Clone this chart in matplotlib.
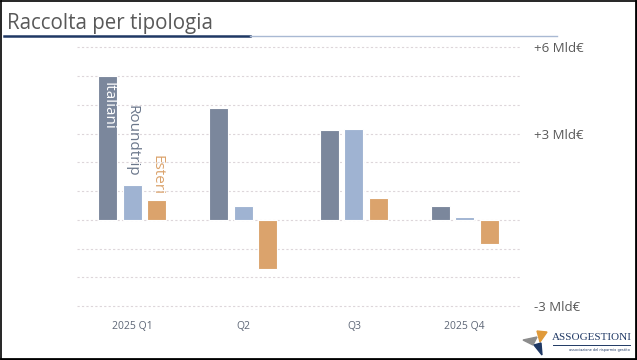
import numpy as np
import matplotlib.pyplot as plt
from matplotlib.lines import Line2D
from matplotlib.patches import Polygon

# dati (Mld di euro)
trimestri = ['2025 Q1', 'Q2', 'Q3', '2025 Q4']
italiani = [5.00, 3.89, 3.11, 0.47]
roundtrip = [1.20, 0.49, 3.16, 0.09]
esteri = [0.70, -1.72, 0.74, -0.85]
tick_val = [-3, -2, -1, 0, 1, 2, 3, 4, 5, 6]
tick_lab = ['-3 Mld€', '', '', '', '', '', '+3 Mld€', '', '', '+6 Mld€']

c_ita = '#7b879c'
c_rt = '#9fb3d2'
c_est = '#dba36c'
grigio = '#595959'

fig = plt.figure(figsize=(6.37, 3.6), dpi=100)
W, H = 637., 360.

ax = fig.add_axes([77/W, 54/H, 443/W, 258.7/H])
x = np.arange(len(trimestri))
off = 0.221
w = 0.172
ax.bar(x - off, italiani, w, color=c_ita, edgecolor='white', linewidth=0.8, zorder=3)
ax.bar(x, roundtrip, w, color=c_rt, edgecolor='white', linewidth=0.8, zorder=3)
ax.bar(x + off, esteri, w, color=c_est, edgecolor='white', linewidth=0.8, zorder=3)

ax.set_xlim(-0.5, 3.5)
ax.set_ylim(-3, 6)
for v in tick_val:
    ax.axhline(v, color='#ddd6da', lw=0.8, dashes=(2, 2), zorder=1, clip_on=False)
for s in ax.spines.values():
    s.set_visible(False)
ax.yaxis.tick_right()
ax.set_yticks(tick_val)
ax.set_yticklabels(tick_lab, fontsize=9.5, color=grigio, family='Open Sans')
ax.set_xticks(x)
ax.set_xticklabels(trimestri, fontsize=7.5, color='#5d6676', family='Open Sans')
ax.tick_params(length=0)
ax.tick_params(axis='y', pad=10)
ax.tick_params(axis='x', pad=11)

# etichette verticali nelle/sopra le barre
ax.text(x[0] - off, 4.80, 'Italiani', rotation=-90, ha='center', va='top',
        color='white', fontsize=11, family='Open Sans', zorder=4)
ax.text(x[0], 3.98, 'Roundtrip', rotation=-90, ha='center', va='top',
        color='#6b778b', fontsize=11, family='Open Sans', zorder=4)
ax.text(x[0] + off, 2.24, 'Esteri', rotation=-90, ha='center', va='top',
        color=c_est, fontsize=11, family='Open Sans', zorder=4)

# titolo e linee
fig.text(7/W, 1 - 29/H, 'Raccolta per tipologia', fontsize=14.8, color=grigio,
         family='Open Sans', va='baseline')
fig.add_artist(Line2D([4/W, 250/W], [1 - 36/H, 1 - 36/H], color='#1f3864', lw=1.8))
fig.add_artist(Line2D([250/W, 557/W], [1 - 36/H, 1 - 36/H], color='#a9b9d3', lw=1))

# cornice
fig.add_artist(Line2D([0.5/W, 0.5/W], [1 - 1/H, 1 - 358.5/H], color='black', lw=1.2))
fig.add_artist(Line2D([0.5/W, 635.5/W], [1 - 1/H, 1 - 1/H], color='black', lw=1.2))
fig.add_artist(Line2D([635.5/W, 635.5/W], [1 - 1/H, 1 - 358.5/H], color='black', lw=2))
fig.add_artist(Line2D([0.5/W, 635.5/W], [1 - 358.5/H, 1 - 358.5/H], color='black', lw=2))

# logo
def tri(pts, col):
    fig.add_artist(Polygon([(px/W, 1 - py/H) for px, py in pts], closed=True,
                           color=col, transform=fig.transFigure))
tri([(523, 340), (537, 337), (533, 345)], '#8c8c8c')
tri([(537, 331), (547, 332), (540, 342)], '#e09a3a')
tri([(534, 345), (541, 343), (542, 355)], '#1f3864')
fig.text(552/W, 1 - 338/H, 'ASSOGESTIONI', fontsize=8, color='#1f3864',
         family='Liberation Serif', va='center', ha='left')
fig.add_artist(Line2D([553/W, 630/W], [1 - 345/H, 1 - 345/H], color='#1f3864', lw=0.7))
fig.text(630/W, 1 - 350/H, 'associazione del risparmio gestito', fontsize=2.5,
         color='#1f3864', va='center', ha='right')

fig.savefig('out.png', dpi=100)
